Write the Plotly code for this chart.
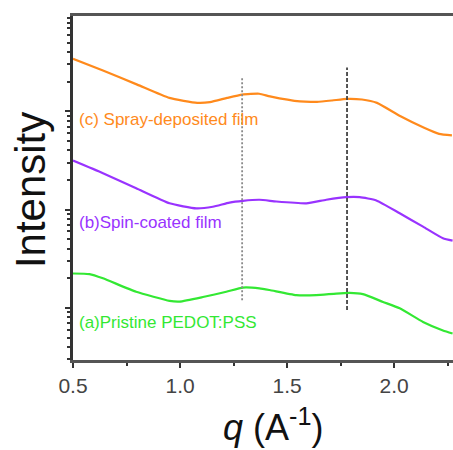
import numpy as np
import plotly.graph_objects as go

# ---- data ----
q_a = [0.50, 0.577, 0.64, 0.795, 0.951, 0.998, 1.107, 1.216, 1.294, 1.371, 1.418, 1.543, 1.636, 1.730, 1.792, 1.854, 1.948, 2.026, 2.135, 2.228, 2.273]
I_a = [2.24, 2.21, 2.0, 1.46, 1.18, 1.16, 1.29, 1.46, 1.61, 1.58, 1.52, 1.35, 1.35, 1.40, 1.42, 1.38, 1.15, 0.99, 0.72, 0.59, 0.55]

q_b = [0.50, 0.64, 0.795, 0.951, 1.076, 1.153, 1.231, 1.294, 1.371, 1.450, 1.590, 1.683, 1.777, 1.839, 1.917, 2.026, 2.135, 2.228, 2.273]
I_b = [31.6, 23.5, 16.5, 11.6, 10.3, 10.7, 11.8, 12.3, 12.6, 12.1, 11.6, 12.6, 13.4, 13.4, 12.4, 9.18, 6.71, 5.11, 4.83]

q_c = [0.50, 0.64, 0.80, 0.95, 1.08, 1.14, 1.22, 1.29, 1.37, 1.42, 1.56, 1.64, 1.71, 1.78, 1.85, 1.92, 2.03, 2.14, 2.21, 2.27]
I_c = [343, 260, 187, 137, 122, 124, 137, 148, 151, 142, 126, 125, 129, 134, 132, 122, 89, 68, 59, 57]

series_names = ["(a)Pristine PEDOT:PSS", "(b)Spin-coated film", "(c) Spray-deposited film"]
series_colors = ["#33E833", "#9933FF", "#FF8A1C"]
label_q = [0.52, 0.52, 0.52]
label_I = [0.71, 7.4, 82]

peak_q = [1.29, 1.78]
peak_I_low = [1.2, 0.95]
peak_I_high = [226, 279]
peak_dash = ["2px,2px", "4px,2px"]
peak_color = ["#8a8a8a", "#444444"]

x_ticks = [0.5, 1.0, 1.5, 2.0]
x_ticklabels = ["0.5", "1.0", "1.5", "2.0"]

fig = go.Figure()

for qq, ii, c in zip([q_a, q_b, q_c], [I_a, I_b, I_c], series_colors):
    fig.add_trace(go.Scatter(x=qq, y=ii, mode="lines",
                             line=dict(color=c, width=2.2, shape="spline", smoothing=0.5),
                             showlegend=False, hoverinfo="skip"))

for pq, lo, hi, d, c in zip(peak_q, peak_I_low, peak_I_high, peak_dash, peak_color):
    fig.add_trace(go.Scatter(x=[pq, pq], y=[lo, hi], mode="lines",
                             line=dict(color=c, width=1.8, dash=d),
                             showlegend=False, hoverinfo="skip"))

for name, c, lq, li in zip(series_names, series_colors, label_q, label_I):
    fig.add_annotation(x=lq, y=np.log10(li), xref="x", yref="y", text=name,
                       showarrow=False, xanchor="left", yanchor="middle",
                       font=dict(family="Arial", size=17, color=c))

fig.add_annotation(x=-0.113, y=0.494, xref="paper", yref="paper", text="Intensity",
                   textangle=-90, showarrow=False, xanchor="center", yanchor="middle",
                   font=dict(family="Arial", size=42, color="#111111"))
fig.add_annotation(x=0.526, y=-0.19, xref="paper", yref="paper",
                   text="<i>q</i> (A<sup>-1</sup>)",
                   showarrow=False, xanchor="center", yanchor="middle",
                   font=dict(family="Arial", size=36, color="#111111"))

fig.update_xaxes(range=[0.5, 2.275], tickvals=x_ticks, ticktext=x_ticklabels,
                 ticks="outside", ticklen=5, tickwidth=1.5, tickcolor="#333333",
                 minor=dict(ticks="outside", ticklen=3, dtick=0.25, tick0=0.25, tickcolor="#333333", showgrid=False),
                 showline=True, linecolor="#555555", linewidth=2.5, mirror=True,
                 showgrid=False, zeroline=False,
                 tickfont=dict(family="Arial", size=21, color="#444444"))
fig.update_yaxes(type="log", range=[-0.53, 2.97], dtick=1,
                 ticks="outside", ticklen=5, tickwidth=1.5, tickcolor="#333333",
                 minor=dict(ticks="outside", ticklen=3, tickcolor="#333333", showgrid=False),
                 showticklabels=False,
                 showline=True, linecolor="#333333", linewidth=2.5,
                 showgrid=False, zeroline=False)

fig.update_layout(width=453, height=450,
                  margin=dict(l=73, r=0, t=16, b=90),
                  paper_bgcolor="white", plot_bgcolor="white")

fig.write_html("out.html")
